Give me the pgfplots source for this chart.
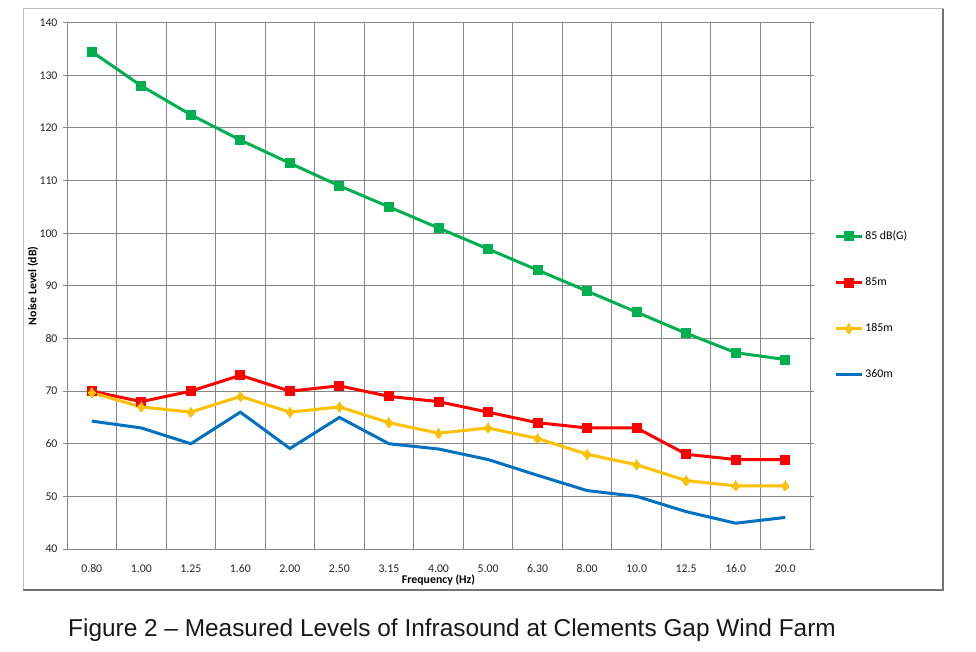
\documentclass[border=0pt]{standalone}
\usepackage{pgfplots}
\pgfplotsset{compat=1.18}
\usepackage{fontspec}
\setmainfont{Carlito}
\newfontfamily\arialfont{Liberation Sans}
\definecolor{cgreen}{HTML}{00B050}
\definecolor{cred}{HTML}{FF0000}
\definecolor{cyellow}{HTML}{FFC000}
\definecolor{cblue}{HTML}{0070C0}
\definecolor{gridgray}{HTML}{868686}
\begin{document}
\begin{tikzpicture}[x=1pt,y=1pt]
\useasboundingbox (0,0) rectangle (976,651);
\fill[white] (0,0) rectangle (976,651);
\draw[color=black!25, line width=1pt] (23,61) rectangle (943,642);
\draw[color=black!55, line width=1.8pt] (23,61)--(943,61)--(943,642);
\begin{axis}[
  at={(67pt,102pt)}, anchor=south west,
  scale only axis, width=743pt, height=526.3pt,
  xmin=-0.5, xmax=14.5, ymin=40, ymax=140,
  ytick={40,50,...,140},
  xtick={0,...,14},
  xticklabels={0.80,1.00,1.25,1.60,2.00,2.50,3.15,4.00,5.00,6.30,8.00,10.0,12.5,16.0,20.0},
  minor xtick={-0.5,0.5,...,14.5},
  xminorgrids=true, ymajorgrids=true,
  grid style={gridgray, line width=1pt},
  minor grid style={gridgray, line width=1pt},
  axis line style={gridgray, line width=1pt},
  tick align=outside,
  major tick length=4pt, minor tick length=4pt,
  xtick style={draw=none},
  ytick style={gridgray, line width=1pt},
  minor tick style={gridgray, line width=1pt},
  /pgf/number format/assume math mode=true,
  ticklabel style={font=\fontsize{11.8}{13}\selectfont, text=black!85},
  xticklabel style={yshift=-8pt},
  yticklabel style={xshift=-2pt},
  xlabel={Frequency (Hz)},
  ylabel={Noise Level (dB)},
  every axis x label/.style={at={(axis description cs:0.5,-0.0589)}, anchor=center, font=\bfseries\fontsize{11.8}{13}\selectfont},
  every axis y label/.style={at={(axis description cs:-0.0458,0.5)}, anchor=center, rotate=90, font=\bfseries\fontsize{11.8}{13}\selectfont},
  legend style={draw=none, fill=none, at={(axis description cs:1.0325,0.608)}, anchor=north west, inner sep=0pt, row sep=32.5pt, font=\fontsize{11.8}{13}\selectfont, legend cell align=left, /tikz/every even column/.append style={column sep=0pt}},
  legend image code/.code={\draw[mark repeat=2,mark phase=2] plot coordinates {(0pt,0pt)(13pt,0pt)(26pt,0pt)};},
  every axis plot/.append style={line width=3pt},
]
\addplot[cgreen, mark=square*, mark size=4.5pt, mark options={solid, line width=0pt}] coordinates {
(0,134.5)(1,128)(2,122.5)(3,117.7)(4,113.3)(5,109)(6,105)(7,101)(8,97)(9,93)(10,89)(11,85)(12,81)(13,77.3)(14,76)};
\addlegendentry{85 dB(G)}
\addplot[cred, mark=square*, mark size=4.5pt, mark options={solid, line width=0pt}] coordinates {
(0,70)(1,68)(2,70)(3,73)(4,70)(5,71)(6,69)(7,68)(8,66)(9,64)(10,63)(11,63)(12,58)(13,57)(14,57)};
\addlegendentry{85m}
\addplot[cyellow, mark=diamond*, mark size=5pt, mark options={solid, line width=0pt}] coordinates {
(0,69.7)(1,67)(2,66)(3,69)(4,66)(5,67)(6,64)(7,62)(8,63)(9,61)(10,58)(11,56)(12,53)(13,52)(14,52)};
\addlegendentry{185m}
\addplot[cblue, no marks] coordinates {
(0,64.3)(1,63)(2,60)(3,66)(4,59.1)(5,65)(6,60)(7,59)(8,57)(9,54)(10,51.1)(11,50)(12,47.1)(13,44.9)(14,46)};
\addlegendentry{360m}
\end{axis}
\node[anchor=base west, inner sep=0pt, font=\arialfont\fontsize{24.4}{28}\selectfont, text=black!90] at (68,15) {Figure 2 – Measured Levels of Infrasound at Clements Gap Wind Farm};
\end{tikzpicture}
\end{document}
